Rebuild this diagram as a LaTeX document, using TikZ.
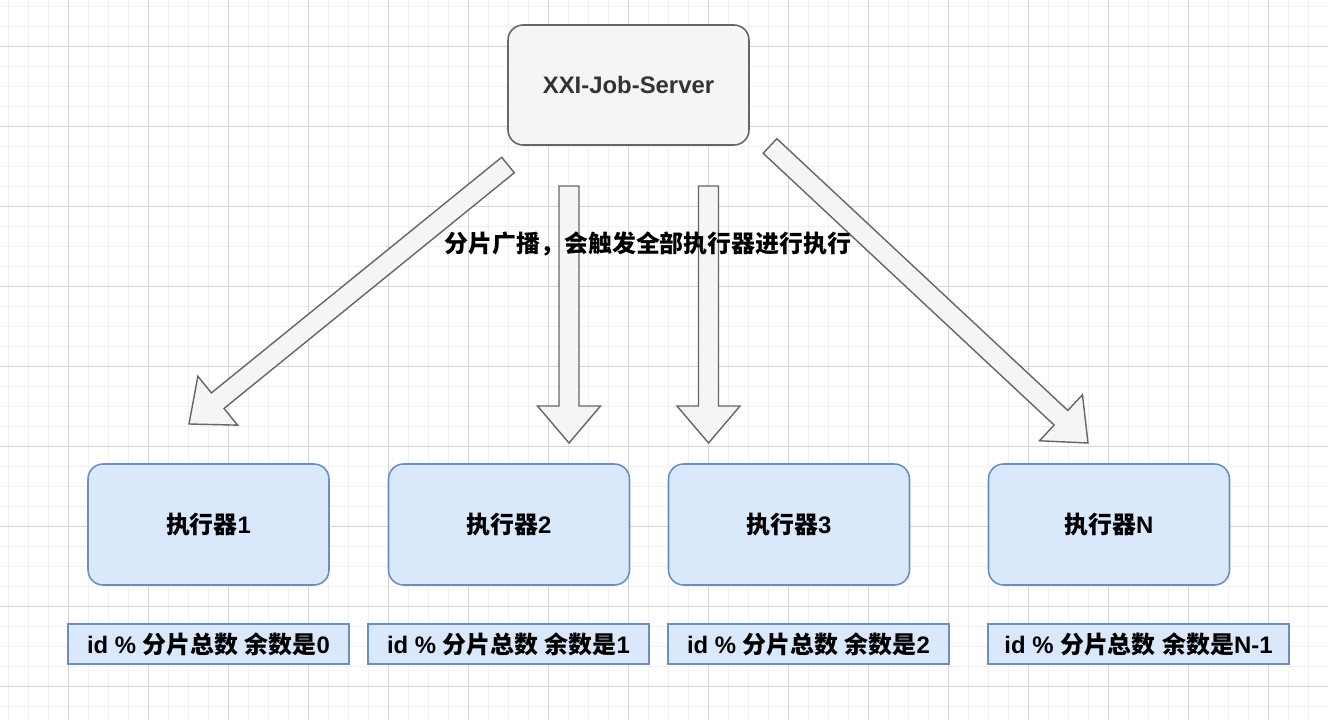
\documentclass[tikz,border=0pt]{standalone}
\usepackage{fontspec}
\setmainfont{Liberation Sans}
\newfontfamily\cjk{Noto Sans CJK SC}
\usetikzlibrary{positioning, calc}

\definecolor{gridminor}{HTML}{F0F0F0}
\definecolor{gridmajor}{HTML}{D6D6D6}
\definecolor{srvfill}{HTML}{F5F5F5}
\definecolor{srvline}{HTML}{666666}
\definecolor{srvtext}{HTML}{333333}
\definecolor{exefill}{HTML}{DAE8FC}
\definecolor{exeline}{HTML}{6C8EBF}

\tikzset{
  bigfont/.style={font=\fontsize{13.6}{16}\selectfont\bfseries},
  srvbox/.style={draw=srvline, fill=srvfill, line width=0.9pt, rounded corners=3mm,
    minimum width=4.82cm, minimum height=2.4cm, text=srvtext, bigfont},
  exebox/.style={draw=exeline, fill=exefill, line width=0.9pt, rounded corners=3mm,
    minimum width=4.82cm, minimum height=2.42cm, bigfont},
  modbox/.style={draw=exeline, fill=exefill, line width=0.9pt,
    minimum height=0.8cm, bigfont},
  arrowbody/.style={draw=srvline, fill=srvfill, line width=0.8pt, line join=miter},
}

% hollow block arrow from #1 (tail centre) to #2 (tip)
\newcommand{\flexarrow}[2]{%
  \coordinate (neck) at ($(#2)!7.4mm!(#1)$);
  \filldraw[arrowbody] ($(#1)!2mm!90:(#2)$) -- ($(neck)!2mm!90:(#2)$)
    -- ($(neck)!6.3mm!90:(#2)$) -- (#2) -- ($(neck)!6.3mm!-90:(#2)$)
    -- ($(neck)!2mm!-90:(#2)$) -- ($(#1)!2mm!-90:(#2)$) -- cycle;
}

\begin{document}
\begin{tikzpicture}[x=0.02cm, y=-0.02cm]

\useasboundingbox (0,0) rectangle (1328,720);

% --- background grid --------------------------------------------------------
\fill[white] (0,0) rectangle (1328,720);
\foreach \x in {8,28,...,1328} \draw[gridminor, line width=0.4pt] (\x,0) -- (\x,720);
\foreach \y in {6,26,...,720}  \draw[gridminor, line width=0.4pt] (0,\y) -- (1328,\y);
\foreach \x in {68,148,...,1328} \draw[gridmajor, line width=0.4pt] (\x,0) -- (\x,720);
\foreach \y in {46,126,...,720}  \draw[gridmajor, line width=0.4pt] (0,\y) -- (1328,\y);

% --- server -----------------------------------------------------------------
\node[srvbox] (srv) at (628.5,85) {XXI-Job-Server};

% --- executors and their shard rule -----------------------------------------
\foreach \n/\ex/\lx/\lw/\num in {1/208.5/208.5/5.62cm/0, 2/509/508.5/5.62cm/1,
                                  3/789/808.5/5.62cm/2, N/1109/1138.5/6.02cm/N-1} {
  \node[exebox] (exe\n) at (\ex,524.5) {{\cjk 执行器}\n};
  \node[modbox, minimum width=\lw] (mod\n) at (\lx,644)
    {id \% {\cjk 分片总数} {\cjk 余数是}\num};
}

% --- broadcast arrows -------------------------------------------------------
\coordinate (t1) at (508,165);  \coordinate (h1) at (189,424);
\coordinate (t2) at (569,186);  \coordinate (h2) at (569,443);
\coordinate (t3) at (708.5,186); \coordinate (h3) at (708.5,443);
\coordinate (t4) at (770,146);  \coordinate (h4) at (1088,443);

\flexarrow{t1}{h1}
\flexarrow{t2}{h2}
\flexarrow{t3}{h3}
\flexarrow{t4}{h4}

\node[bigfont, inner sep=0pt] (note) at (648,244) {\cjk 分片广播，会触发全部执行器进行执行};

\end{tikzpicture}
\end{document}
